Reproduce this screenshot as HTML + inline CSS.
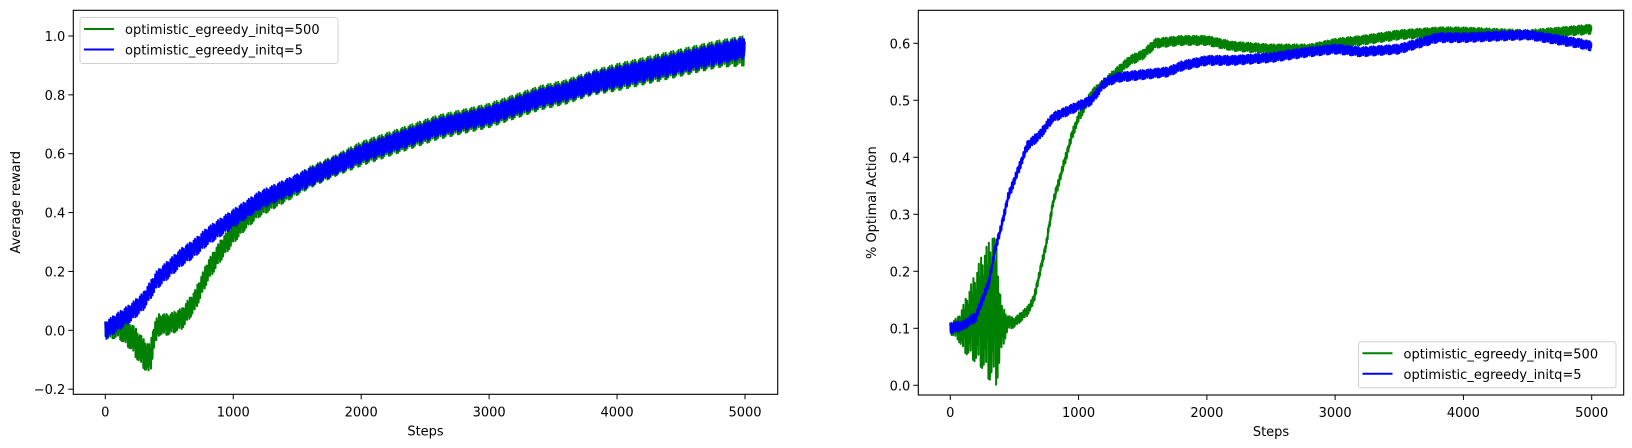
<!DOCTYPE html>
<html><head><meta charset="utf-8">
<style>
html,body{margin:0;padding:0;background:#fff;}
svg{display:block;font-family:"DejaVu Sans","Liberation Sans",sans-serif;}
text{font-size:13px;fill:#000;}
</style></head>
<body>
<svg id="fig" width="1632" height="448" viewBox="0 0 1632 448"></svg>
<script>
// ---- data ----
const xTicks = [0,1000,2000,3000,4000,5000];
const leftYTicks = [-0.2,0.0,0.2,0.4,0.6,0.8,1.0];
const rightYTicks = [0.0,0.1,0.2,0.3,0.4,0.5,0.6];
const seriesNames = ["optimistic_egreedy_initq=500","optimistic_egreedy_initq=5"];

const rewGreenSteps = [0,100,200,250,300,350,380,420,500,600,700,800,900,1000,1100,1200,1400,1600,1800,2000,2200,2400,2600,2800,3000,3200,3400,3600,3800,4000,4200,4400,4600,4800,5000];
const rewGreenVals  = [0.0,0.01,-0.02,-0.05,-0.08,-0.1,-0.02,0.02,0.02,0.04,0.1,0.2,0.27,0.33,0.38,0.42,0.47,0.52,0.56,0.6,0.63,0.66,0.69,0.71,0.73,0.76,0.79,0.81,0.84,0.86,0.88,0.9,0.92,0.94,0.95];
const rewGreenSpread= [0.03,0.035,0.045,0.05,0.05,0.05,0.045,0.035,0.035,0.035,0.035,0.035,0.035,0.035,0.035,0.035,0.035,0.035,0.035,0.04,0.04,0.04,0.04,0.04,0.04,0.04,0.04,0.04,0.04,0.045,0.045,0.045,0.045,0.045,0.05];

const rewBlueSteps = [0,100,200,300,400,500,600,700,800,900,1000,1100,1200,1300,1400,1500,1600,1700,1800,1900,2000,2200,2400,2600,2800,3000,3200,3400,3600,3800,4000,4200,4400,4600,4800,5000];
const rewBlueVals  = [0.0,0.03,0.06,0.1,0.17,0.21,0.25,0.28,0.32,0.35,0.38,0.41,0.44,0.46,0.48,0.5,0.52,0.54,0.56,0.58,0.6,0.63,0.66,0.69,0.71,0.73,0.76,0.79,0.81,0.84,0.86,0.88,0.9,0.92,0.94,0.96];
const rewBlueSpread= [0.03,0.03,0.03,0.03,0.03,0.03,0.03,0.03,0.03,0.03,0.03,0.03,0.03,0.03,0.03,0.03,0.03,0.03,0.03,0.03,0.03,0.03,0.03,0.03,0.03,0.03,0.03,0.03,0.03,0.035,0.035,0.035,0.035,0.035,0.035,0.035];

const optGreenSteps = [0,60,100,150,200,250,300,330,360,400,450,500,600,650,700,750,800,850,900,950,1000,1100,1200,1300,1400,1500,1600,1800,2000,2200,2500,2800,3000,3200,3500,3800,4000,4500,5000];
const optGreenVals  = [0.1,0.1,0.1,0.11,0.12,0.13,0.13,0.14,0.12,0.1,0.11,0.11,0.13,0.15,0.2,0.25,0.32,0.36,0.4,0.44,0.47,0.51,0.53,0.55,0.57,0.58,0.6,0.605,0.605,0.595,0.59,0.59,0.6,0.605,0.615,0.62,0.62,0.615,0.625];
const optGreenSpread= [0.01,0.02,0.04,0.06,0.08,0.1,0.12,0.13,0.12,0.04,0.012,0.008,0.008,0.008,0.008,0.008,0.008,0.008,0.008,0.008,0.008,0.008,0.008,0.008,0.008,0.008,0.008,0.008,0.008,0.008,0.008,0.008,0.008,0.008,0.008,0.008,0.008,0.008,0.008];

const optBlueSteps = [0,100,200,300,350,400,450,500,550,600,700,800,900,1000,1100,1200,1300,1500,1700,1800,2000,2200,2500,2800,3000,3200,3500,3800,4000,4500,4900,5000];
const optBlueVals  = [0.1,0.105,0.12,0.18,0.24,0.28,0.33,0.36,0.39,0.42,0.44,0.47,0.48,0.49,0.5,0.53,0.54,0.545,0.55,0.56,0.57,0.57,0.575,0.585,0.59,0.585,0.59,0.61,0.61,0.615,0.6,0.595];
const optBlueSpread= [0.01,0.008,0.008,0.008,0.008,0.008,0.008,0.008,0.008,0.008,0.008,0.008,0.008,0.008,0.008,0.008,0.008,0.008,0.008,0.008,0.008,0.008,0.008,0.008,0.008,0.008,0.008,0.008,0.008,0.008,0.008,0.008];

const jitter = [1,-0.7,0.4,-1,0.8,-0.3,0.6,-0.9,0.2,-0.5,0.9,-0.6,0.3,-0.8,1,-0.4,0.7,-0.2,0.5,-1];

// ---- drawing ----
const NS="http://www.w3.org/2000/svg";
const svg=document.getElementById('fig');
function mk(tag,attrs,parent){const e=document.createElementNS(NS,tag);for(const k in attrs)e.setAttribute(k,attrs[k]);(parent||svg).appendChild(e);return e;}
function lerp(steps,vals,s){for(let i=0;i<steps.length-1;i++){if(s<=steps[i+1]){const t=(s-steps[i])/(steps[i+1]-steps[i]);return vals[i]+t*(vals[i+1]-vals[i]);}}return vals[vals.length-1];}

function axes(cfg){
  const g=mk('g',{});
  
  
  const xs=s=>cfg.x0+s*(cfg.x5000-cfg.x0)/5000;
  const ys=v=>cfg.yZero-v*cfg.yPerUnit;
  const clip='clip-'+cfg.name;
  const cp=mk('clipPath',{id:clip},g);mk('rect',{x:cfg.L,y:cfg.T,width:cfg.R-cfg.L,height:cfg.B-cfg.T},cp);
  cfg.series.forEach((sr,idx)=>{
    let d='';let k=0;
    for(let s=0;s<=5000;s+=3){
      const m=lerp(sr.steps,sr.vals,s), sp=lerp(sr.steps,sr.spread,s);
      const v=m+sp*jitter[k%jitter.length];k++;
      d+=(d?'L':'M')+xs(s).toFixed(1)+' '+ys(v).toFixed(1);
    }
    const p=mk('path',{d:d,fill:'none',stroke:sr.color,'stroke-width':2,'stroke-linejoin':'round','clip-path':'url(#'+clip+')'},g);
    
    
  });
  mk('rect',{x:cfg.L,y:cfg.T,width:cfg.R-cfg.L,height:cfg.B-cfg.T,fill:'none',stroke:'#000','stroke-width':1.1},g);
  xTicks.forEach(t=>{
    const x=xs(t);
    mk('line',{x1:x,x2:x,y1:cfg.B,y2:cfg.B+5,stroke:'#000','stroke-width':1},g);
    const tx=mk('text',{x:x,y:cfg.B+22,'text-anchor':'middle'},g);tx.textContent=t;
    
    
  });
  cfg.yTicks.forEach(t=>{
    const y=ys(t);
    mk('line',{x1:cfg.L-5,x2:cfg.L,y1:y,y2:y,stroke:'#000','stroke-width':1},g);
    const tx=mk('text',{x:cfg.L-8,y:y+5,'text-anchor':'end'},g);tx.textContent=(t<0?'\u2212':'')+Math.abs(t).toFixed(1);
    
    
  });
  const xl=mk('text',{x:(cfg.L+cfg.R)/2,y:cfg.B+41,'text-anchor':'middle'},g);xl.textContent='Steps';
  
  
  const yl=mk('text',{x:cfg.ylx,y:(cfg.T+cfg.B)/2,'text-anchor':'middle',transform:'rotate(-90 '+cfg.ylx+' '+((cfg.T+cfg.B)/2)+')'},g);yl.textContent=cfg.ylabel;
  
  
  const lg=mk('g',{},g);
  
  
  mk('rect',{x:cfg.lgx,y:cfg.lgy,width:cfg.lgw,height:46,rx:2.5,fill:'#fff','fill-opacity':0.8,stroke:'#d0d0d0'},lg);
  cfg.series.forEach((sr,i)=>{
    const y=cfg.lgy+11.5+i*20.5;
    const e=mk('g',{},lg);
    
    
    mk('line',{x1:cfg.lgx+4,x2:cfg.lgx+34,y1:y,y2:y,stroke:sr.color,'stroke-width':2},e);
    const t=mk('text',{x:cfg.lgx+45,y:y+5},e);t.textContent=seriesNames[i];
  });
}

axes({name:'reward-chart',L:73.3,R:777.7,T:10.3,B:394.3,x0:105.3,x5000:745,yZero:330.3,yPerUnit:294.3,
  yTicks:leftYTicks,ylabel:'Average reward',ylx:20,lgx:80,lgy:17.5,lgw:258,
  series:[{steps:rewGreenSteps,vals:rewGreenVals,spread:rewGreenSpread,color:'#008000',dn:'reward-line-initq-500'},
          {steps:rewBlueSteps,vals:rewBlueVals,spread:rewBlueSpread,color:'#0000ff',dn:'reward-line-initq-5'}]});
axes({name:'optimal-action-chart',L:918.3,R:1623.7,T:10.3,B:395,x0:950.3,x5000:1591.7,yZero:385.3,yPerUnit:570,
  yTicks:rightYTicks,ylabel:'% Optimal Action',ylx:876,lgx:1358.5,lgy:341.8,lgw:257.5,
  series:[{steps:optGreenSteps,vals:optGreenVals,spread:optGreenSpread,color:'#008000',dn:'optimal-line-initq-500'},
          {steps:optBlueSteps,vals:optBlueVals,spread:optBlueSpread,color:'#0000ff',dn:'optimal-line-initq-5'}]});
</script>
</body></html>
